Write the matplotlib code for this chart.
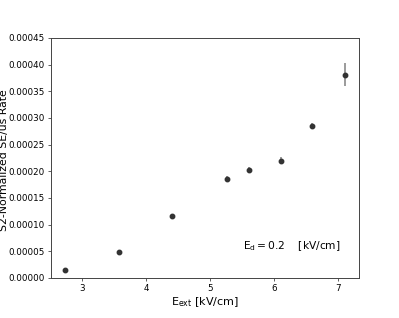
import matplotlib

matplotlib.use("Agg")
import matplotlib.pyplot as plt

# E_ext field [kV/cm] vs S2-normalized SE rate, Ed = 0.2 kV/cm
e_ext = [2.73, 3.57, 4.41, 5.26, 5.60, 6.10, 6.60, 7.11]
rate = [1.4e-5, 4.8e-5, 11.7e-5, 18.5e-5, 20.2e-5, 22.0e-5, 28.5e-5, 38.1e-5]
rate_err = [0.2e-5, 0.2e-5, 0.3e-5, 0.6e-5, 0.6e-5, 0.7e-5, 0.55e-5, 2.2e-5]

fig = plt.figure(figsize=(3.99, 3.18), dpi=100)
ax = fig.add_axes([0.128, 0.126, 0.772, 0.755])

ax.errorbar(e_ext, rate, yerr=rate_err, fmt="o", color="#333333",
            ecolor="#8a8a8a", elinewidth=1.2, markersize=3.2, capsize=0)

ax.set_ylim(0, 0.00045)
ax.set_yticks([i * 0.00005 for i in range(10)])
ax.set_yticklabels([f"{i * 0.00005:.5f}" for i in range(10)])
ax.set_xticks([3, 4, 5, 6, 7])

ax.tick_params(labelsize=6.3, length=2.5, width=0.6, color="#444444",
               labelcolor="black", pad=2)
for sp in ax.spines.values():
    sp.set_linewidth(0.7)
    sp.set_color("#444444")

ax.set_xlabel(r"$\mathrm{E_{ext}}$ [kV/cm]", fontsize=8)
ax.xaxis.set_label_coords(0.5, -0.072)
ax.set_ylabel("S2-Normalized SE/us Rate", fontsize=7.8)
ax.yaxis.set_label_coords(-0.138, 0.49)
ax.text(0.623, 0.12, r"$\mathrm{E_d = 0.2}\quad$ [kV/cm]", transform=ax.transAxes,
        fontsize=7.7)

fig.savefig("out.png", dpi=100)
